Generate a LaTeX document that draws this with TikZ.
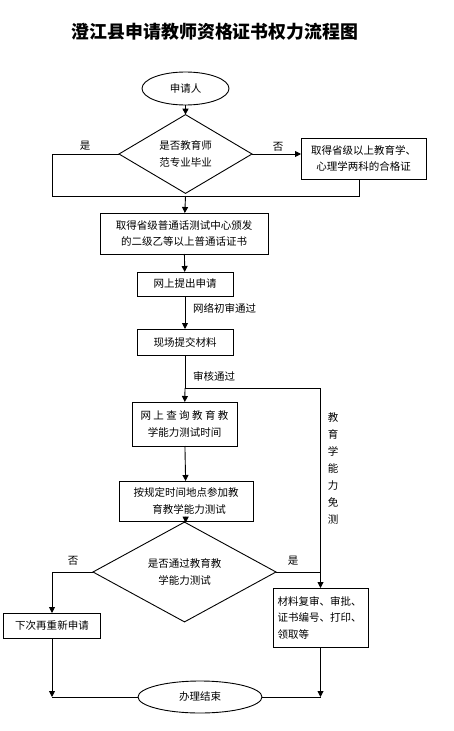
\documentclass[tikz,border=0pt]{standalone}
\usepackage{fontspec}
\newfontfamily\cjk{Noto Sans CJK SC}
\usetikzlibrary{shapes.geometric,arrows.meta}
\tikzset{
  base/.style={draw=black, line width=0.9pt, inner sep=0pt, outer sep=0pt,
    font=\cjk\fontsize{10.5}{16.5}\selectfont, align=center},
  procbox/.style={base, rectangle},
  termin/.style={base, ellipse},
  decide/.style={base, diamond},
  lbl/.style={inner sep=0pt, font=\cjk\fontsize{10.5}{16.5}\selectfont},
  conn/.style={line width=0.9pt},
  arr/.style={conn, -{Triangle[length=6pt,width=6pt]}}
}
\begin{document}
\begin{tikzpicture}[x=1pt,y=-1pt]
\useasboundingbox (0,0) rectangle (453,731);
\node[inner sep=0pt, font=\cjk\bfseries\fontsize{17.9}{20}\selectfont] (title) at (215,32) {澄江县申请教师资格证书权力流程图};

\node[termin, minimum width=87pt, minimum height=33pt] (start) at (185.5,88.5) {申请人};
\node[decide, minimum width=133pt, minimum height=68pt] (d1) at (185.5,154) {是否教育师\\范专业毕业};
\node[procbox, minimum width=125pt, minimum height=41pt] (b1) at (363.5,158.5) {取得省级以上教育学、\\心理学两科的合格证};
\node[procbox, minimum width=168pt, minimum height=41pt] (b2) at (184,233.5) {取得省级普通话测试中心颁发\\的二级乙等以上普通话证书};
\node[procbox, minimum width=96pt, minimum height=24pt] (b3) at (185,284) {网上提出申请};
\node[procbox, minimum width=96pt, minimum height=26pt] (b4) at (185,342) {现场提交材料};
\node[procbox, minimum width=105pt, minimum height=44pt] (b5) at (184.5,424) {\makebox[88pt][s]{网\hfill 上\hfill 查\hfill 询\hfill 教\hfill 育\hfill 教}\\学能力测试时间\hspace{8pt}};
\node[procbox, minimum width=134pt, minimum height=40pt] (b6) at (186,501) {按规定时间地点参加教\\\hspace{6pt}育教学能力测试};
\node[decide, minimum width=183pt, minimum height=66pt] (d2) at (184.5,572) {是否通过教育教\\学能力测试};
\node[procbox, minimum width=97pt, minimum height=25pt] (b7) at (52,625.5) {下次再重新申请};
\node[procbox, minimum width=95pt, minimum height=59pt, text width=86pt, align=left] (b8) at (320.5,617.5) {材料复审、审批、\\证书编号、打印、\\领取等};
\node[termin, minimum width=124pt, minimum height=32pt] (end) at (200,697) {办理结束};

\node[lbl] (yes1) at (85,146) {是};
\node[lbl] (no1) at (278,147) {否};
\node[lbl, anchor=west] (l1) at (193,308) {网络初审通过};
\node[lbl, anchor=west] (l2) at (193,376) {审核通过};
\node[lbl] (no2) at (73,561) {否};
\node[lbl] (yes2) at (293,561) {是};
\node[lbl, align=center, font=\cjk\fontsize{10.5}{17}\selectfont] (vt) at (333,468.5) {教\\育\\学\\能\\力\\免\\测};

\coordinate (L1) at (52,196);
\coordinate (J1) at (185.5,196);
\coordinate (R1) at (359,196);
\coordinate (J2) at (185,388);
\coordinate (K) at (320.5,388);

\draw[arr] (start) -- (d1);
\draw[arr] (d1.east) -- (d1.east -| b1.west);
\draw[conn] (d1.west) -| (L1) -- (R1) -- (R1 |- b1.south);
\draw[arr] (J1) -- (b2);
\draw[arr] (b2) -- (b3);
\draw[arr] (b3) -- (b4);
\draw[conn] (b4) -- (J2) -- (K);
\draw[arr] (J2) -- (b5);
\draw[arr] (K) -- (b8);
\draw[arr] (b5) -- (b6);
\draw[arr] (b6) -- (d2);
\draw[arr] (d2.west) -| (b7.north);
\draw[conn] (d2.east) -- (d2.east -| b8.north);
\draw[arr] (b7.south) -- (b7.south |- end.west);
\draw[arr] (b8.south) -- (b8.south |- end.east);
\draw[conn] (end.west) -- (b7.south |- end.west);
\draw[conn] (end.east) -- (b8.south |- end.east);
\end{tikzpicture}
\end{document}
